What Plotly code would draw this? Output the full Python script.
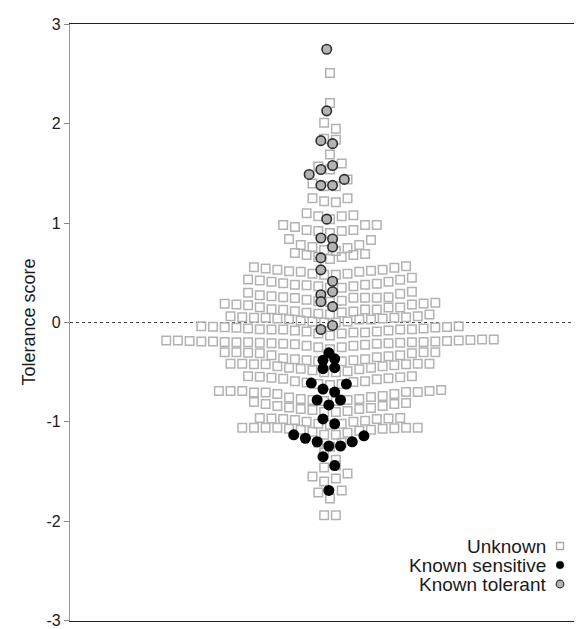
import plotly.graph_objects as go

# Beeswarm rows (each inner list = one swarm row, values listed left to right)
unknown_rows = [
    [2.51],
    [2.21],
    [2.01, 1.95],
    [1.85, 1.84],
    [1.69],
    [1.57, 1.54, 1.60],
    [1.40, 1.37, 1.37, 1.44],
    [1.25, 1.22, 1.21, 1.25],
    [1.10, 1.07, 1.04, 1.07, 1.08],
    [0.98, 0.96, 0.93, 0.92, 0.90, 0.92, 0.93, 0.98, 0.98],
    [0.84, 0.78, 0.76, 0.73, 0.72, 0.75, 0.78, 0.83],
    [0.70, 0.68, 0.66, 0.64, 0.66, 0.68, 0.69],
    [0.556, 0.543, 0.53, 0.516, 0.51, 0.49, 0.48, 0.48, 0.49, 0.51, 0.52, 0.53, 0.55, 0.565],
    [0.432, 0.422, 0.41, 0.395, 0.38, 0.375, 0.365, 0.35, 0.35, 0.365, 0.38, 0.39, 0.41, 0.43, 0.45],
    [0.30, 0.275, 0.264, 0.254, 0.247, 0.23, 0.214, 0.21, 0.22, 0.25, 0.25, 0.25, 0.254, 0.29, 0.31],
    [0.188, 0.181, 0.174, 0.154, 0.134, 0.128, 0.114, 0.097, 0.087, 0.08, 0.10, 0.11, 0.13, 0.13,
     0.15, 0.15, 0.18, 0.19, 0.20],
    [0.063, 0.053, 0.047, 0.047, 0.04, 0.033, 0.02, 0.01, 0.0, 0.0, 0.01, 0.03, 0.03, 0.04, 0.047,
     0.053, 0.063, 0.08],
    [-0.037, -0.043, -0.047, -0.053, -0.06, -0.067, -0.07, -0.07, -0.08, -0.09, -0.11, -0.13, -0.11,
     -0.10, -0.10, -0.09, -0.08, -0.07, -0.067, -0.06, -0.05, -0.045, -0.037],
    [-0.18, -0.18, -0.185, -0.19, -0.19, -0.195, -0.20, -0.20, -0.205, -0.21, -0.215, -0.22, -0.235,
     -0.25, -0.27, -0.25, -0.235, -0.225, -0.215, -0.21, -0.205, -0.20, -0.195, -0.19, -0.185, -0.18,
     -0.175, -0.17, -0.17],
    [-0.30, -0.30, -0.305, -0.31, -0.33, -0.36, -0.37, -0.38, -0.39, -0.40, -0.39, -0.38, -0.37,
     -0.35, -0.34, -0.33, -0.31, -0.30, -0.30],
    [-0.415, -0.415, -0.42, -0.42, -0.44, -0.455, -0.465, -0.48, -0.50, -0.50, -0.49, -0.47, -0.455,
     -0.44, -0.43, -0.42, -0.415, -0.415],
    [-0.54, -0.545, -0.555, -0.565, -0.59, -0.605, -0.62, -0.63, -0.62, -0.60, -0.59, -0.57, -0.56,
     -0.55, -0.54],
    [-0.69, -0.69, -0.69, -0.705, -0.705, -0.72, -0.755, -0.77, -0.78, -0.79, -0.79, -0.78, -0.77,
     -0.75, -0.74, -0.72, -0.70, -0.70, -0.69, -0.68],
    [-0.80, -0.82, -0.84, -0.855, -0.87, -0.88, -0.90, -0.90, -0.89, -0.87, -0.86, -0.84, -0.82, -0.81],
    [-0.96, -0.965, -0.97, -0.98, -1.0, -1.02, -1.03, -1.02, -1.0, -0.99, -0.97, -0.965, -0.96],
    [-1.06, -1.06, -1.06, -1.06, -1.07, -1.08, -1.10, -1.13, -1.13, -1.11, -1.09, -1.08, -1.07,
     -1.065, -1.06, -1.06],
    [-1.21, -1.25, -1.21],
    [-1.31, -1.38],
    [-1.46, -1.44],
    [-1.55, -1.60, -1.57, -1.52],
    [-1.71, -1.77, -1.69],
    [-1.94, -1.94],
]

sensitive_rows = [
    [-0.305],
    [-0.38, -0.365],
    [-0.465, -0.455],
    [-0.61, -0.67, -0.70, -0.62],
    [-0.78, -0.83, -0.78],
    [-0.97, -1.02],
    [-1.13, -1.165, -1.20, -1.243, -1.243, -1.20, -1.14],
    [-1.35, -1.44],
    [-1.69],
]

tolerant_rows = [
    [2.75],
    [2.13],
    [1.83, 1.80],
    [1.49, 1.54, 1.58, 1.44],
    [1.38, 1.38],
    [1.04],
    [0.85, 0.84],
    [0.65, 0.76],
    [0.53, 0.415],
    [0.28, 0.31],
    [0.21, 0.16],
    [-0.07, -0.03],
]

y_ticks = [3, 2, 1, 0, -1, -2, -3]
y_tick_labels = ["3", "2", "1", "0", "-1", "-2", "-3"]
legend_labels = ["Unknown", "Known sensitive", "Known tolerant"]
y_title = "Tolerance score"


def swarm(rows, shift=0.0):
    xs, ys = [], []
    for row in rows:
        n = len(row)
        for i, v in enumerate(row):
            xs.append(i - (n - 1) / 2 + shift)
            ys.append(v)
    return xs, ys


FONT = "Liberation Sans, Arial, sans-serif"
PAGE_OFF = 8          # default body margin of the html page
W, H = 582 - PAGE_OFF, 629 - PAGE_OFF
PL, PR, PT, PB = 70, 580, 24, 621   # plot area edges in window pixels
L, T = PL - PAGE_OFF, PT - PAGE_OFF
R = W - (PR - PAGE_OFF)
B = H - (PB - PAGE_OFF)
plot_w = PR - PL
plot_h = PB - PT
slot_px = 11.7
center_px = 330
x_range = [-(center_px - PL) / slot_px, (PR - center_px) / slot_px]
y_range = [-3.004, 3.004]

ux, uy = swarm(unknown_rows)
sx, sy = swarm(sensitive_rows, -0.1)
tx, ty = swarm(tolerant_rows, -0.28)

fig = go.Figure()
fig.add_trace(go.Scatter(
    x=ux, y=uy, mode="markers", name=legend_labels[0],
    marker=dict(symbol="square-open", size=8.5, color="#b2b2b2", line=dict(width=1.5, color="#b2b2b2")),
    hoverinfo="y",
))
fig.add_trace(go.Scatter(
    x=tx, y=ty, mode="markers", name=legend_labels[2],
    marker=dict(symbol="circle", size=9.5, color="#b4b4b4", line=dict(width=1.6, color="#2e2e2e")),
    hoverinfo="y",
))
fig.add_trace(go.Scatter(
    x=sx, y=sy, mode="markers", name=legend_labels[1],
    marker=dict(symbol="circle", size=11, color="#000000", line=dict(width=0)),
    hoverinfo="y",
))


def px_x(p):
    return (p - PL) / plot_w


def px_y(p):
    return (PB - p) / plot_h


# legend (text right-aligned, symbol on the right)
leg_rows_y = [546, 565, 584]
annotations = []
shapes = []
for lab, yy in zip(legend_labels, leg_rows_y):
    annotations.append(dict(
        x=px_x(548), y=px_y(yy), xref="paper", yref="paper", text=lab, showarrow=False,
        xanchor="right", yanchor="middle", font=dict(family=FONT, size=19, color="#1a1a1a"),
    ))

mx = 560
half = 3.5
sq_y = leg_rows_y[0]
shapes.append(dict(type="rect", xref="paper", yref="paper",
                   x0=px_x(mx - half), x1=px_x(mx + half), y0=px_y(sq_y + half), y1=px_y(sq_y - half),
                   line=dict(color="#a8a8a8", width=1.3), fillcolor="rgba(0,0,0,0)"))
dy = leg_rows_y[1]
shapes.append(dict(type="circle", xref="paper", yref="paper",
                   x0=px_x(mx - 3.8), x1=px_x(mx + 3.8), y0=px_y(dy + 3.8), y1=px_y(dy - 3.8),
                   line=dict(color="#000", width=0.5), fillcolor="#000"))
cy = leg_rows_y[2]
shapes.append(dict(type="circle", xref="paper", yref="paper",
                   x0=px_x(mx - 3.8), x1=px_x(mx + 3.8), y0=px_y(cy + 3.8), y1=px_y(cy - 3.8),
                   line=dict(color="#333", width=1.2), fillcolor="#b4b4b4"))

# dotted zero line
shapes.append(dict(type="line", xref="paper", yref="y", x0=0, x1=1, y0=0, y1=0,
                   line=dict(color="#444", width=1.2, dash="dot"), layer="below"))

annotations.append(dict(
    x=px_x(28), y=0, xref="paper", yref="y", text=y_title, showarrow=False, textangle=-90,
    xanchor="center", yanchor="middle", font=dict(family=FONT, size=18, color="#1a1a1a"),
))

fig.update_layout(
    width=W, height=H,
    margin=dict(l=L, r=R, t=T, b=B, pad=0),
    paper_bgcolor="white", plot_bgcolor="white",
    showlegend=False,
    font=dict(family=FONT, color="#1a1a1a"),
    xaxis=dict(range=x_range, showgrid=False, zeroline=False, showticklabels=False, ticks="",
               showline=True, mirror=True, linecolor="#222", linewidth=1.2, fixedrange=True),
    yaxis=dict(range=y_range, tickvals=y_ticks, ticktext=y_tick_labels, showgrid=False, zeroline=False,
               ticks="outside", ticklen=5, tickwidth=1, tickcolor="#888",
               showline=True, linecolor="#999", linewidth=1.2, automargin=False,
               ticklabeloverflow="allow",
               tickfont=dict(family=FONT, size=16, color="#1a1a1a")),
    annotations=annotations,
    shapes=shapes,
)

fig.write_html("out.html")
